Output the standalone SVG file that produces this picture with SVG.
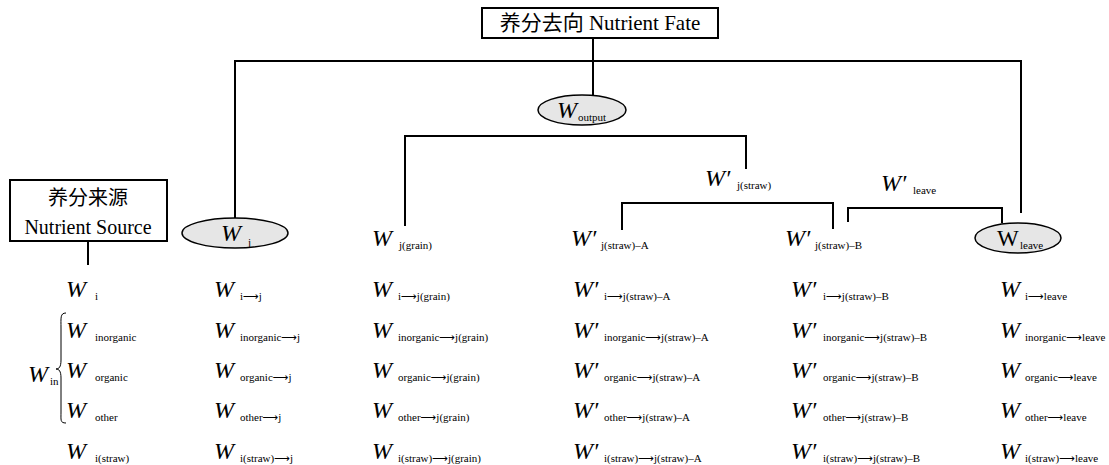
<svg xmlns="http://www.w3.org/2000/svg" width="1109" height="465" viewBox="0 0 1109 465">
<style>
.ln{stroke:#000;stroke-width:2;fill:none}
.box{fill:#fff;stroke:#000;stroke-width:2}
.ell{fill:#e6e6e6;stroke:#000;stroke-width:1.5}
.t{font-family:"Liberation Serif","Times New Roman","Noto Sans CJK SC",serif;fill:#000}
.w{font-family:"Liberation Serif","Times New Roman",serif;font-style:italic;font-size:24px}
.wr{font-family:"Liberation Serif","Times New Roman",serif;font-size:23px}
.s{font-family:"Liberation Serif","Times New Roman","DejaVu Sans",serif;font-size:11px}
</style>
<rect width="1109" height="465" fill="#fff"/>
<g id="connectors">
<path class="ln" d="M593 38V96"/>
<path class="ln" d="M235 219V61H1021V213"/>
<path class="ln" d="M405 226V136H746V169"/>
<path class="ln" d="M622 230V203H833V229"/>
<path class="ln" d="M848 222V208H1002V223"/>
<path class="ln" d="M88 241V265"/>
<path d="M66 313 C60 313 61 318 61 328 L61 360 C61 367 59 369 56 369 C59 369 61 371 61 378 L61 412 C61 420 60 423 66 423" fill="none" stroke="#000" stroke-width="1"/>
</g>
<g id="fate">
<rect class="box" x="482" y="8" width="236" height="30"/>
<text class="t" x="600" y="30" font-size="21" text-anchor="middle">养分去向 Nutrient Fate</text>
</g>
<g id="source">
<rect class="box" x="10" y="180" width="157" height="61"/>
<text class="t" x="88" y="205" font-size="20" text-anchor="middle">养分来源</text>
<text class="t" x="88" y="234" font-size="20" text-anchor="middle">Nutrient Source</text>
</g>
<g id="output">
<ellipse class="ell" cx="582" cy="110" rx="44" ry="15"/>
<text class="w" x="557" y="118">W</text><text class="s" x="578" y="121">output</text>
</g>
<g id="wj">
<ellipse class="ell" cx="235" cy="233" rx="53" ry="15"/>
<text class="w" x="221" y="241">W</text><text class="s" x="248" y="246">j</text>
</g>
<g id="wleave">
<ellipse class="ell" cx="1018" cy="238" rx="43" ry="15"/>
<text class="wr" x="997" y="246">W</text><text class="s" x="1020" y="249">leave</text>
</g>
<g id="wjgrain"><text class="w" x="372" y="246">W</text><text class="s" x="399" y="249">j(grain)</text></g>
<g id="wjstraw"><text class="w" x="705" y="186">W′</text><text class="s" x="737" y="189">j(straw)</text></g>
<g id="wleave2"><text class="w" x="881" y="191">W′</text><text class="s" x="913" y="194">leave</text></g>
<g id="wjstrawA"><text class="w" x="571" y="246">W′</text><text class="s" x="601" y="249">j(straw)–A</text></g>
<g id="wjstrawB"><text class="w" x="785" y="246">W′</text><text class="s" x="815" y="249">j(straw)–B</text></g>
<g id="win"><text class="w" x="28" y="382">W</text><text class="s" x="50" y="385">in</text></g>
<g id="col0">
<text class="w" x="66" y="297">W</text><text class="s" x="95" y="300">i</text>
<text class="w" x="66" y="338">W</text><text class="s" x="95" y="341">inorganic</text>
<text class="w" x="66" y="378">W</text><text class="s" x="95" y="381">organic</text>
<text class="w" x="66" y="418">W</text><text class="s" x="95" y="421">other</text>
<text class="w" x="66" y="459">W</text><text class="s" x="95" y="462">i(straw)</text>
</g>
<g id="col1">
<text class="w" x="214" y="297">W</text><text class="s" x="240" y="300">i⟶j</text>
<text class="w" x="214" y="338">W</text><text class="s" x="240" y="341">inorganic⟶j</text>
<text class="w" x="214" y="378">W</text><text class="s" x="240" y="381">organic⟶j</text>
<text class="w" x="214" y="418">W</text><text class="s" x="240" y="421">other⟶j</text>
<text class="w" x="214" y="459">W</text><text class="s" x="240" y="462">i(straw)⟶j</text>
</g>
<g id="col2">
<text class="w" x="372" y="297">W</text><text class="s" x="398" y="300">i⟶j(grain)</text>
<text class="w" x="372" y="338">W</text><text class="s" x="398" y="341">inorganic⟶j(grain)</text>
<text class="w" x="372" y="378">W</text><text class="s" x="398" y="381">organic⟶j(grain)</text>
<text class="w" x="372" y="418">W</text><text class="s" x="398" y="421">other⟶j(grain)</text>
<text class="w" x="372" y="459">W</text><text class="s" x="398" y="462">i(straw)⟶j(grain)</text>
</g>
<g id="col3">
<text class="w" x="573" y="297">W′</text><text class="s" x="604" y="300">i⟶j(straw)–A</text>
<text class="w" x="573" y="338">W′</text><text class="s" x="604" y="341">inorganic⟶j(straw)–A</text>
<text class="w" x="573" y="378">W′</text><text class="s" x="604" y="381">organic⟶j(straw)–A</text>
<text class="w" x="573" y="418">W′</text><text class="s" x="604" y="421">other⟶j(straw)–A</text>
<text class="w" x="573" y="459">W′</text><text class="s" x="604" y="462">i(straw)⟶j(straw)–A</text>
</g>
<g id="col4">
<text class="w" x="791" y="297">W′</text><text class="s" x="823" y="300">i⟶j(straw)–B</text>
<text class="w" x="791" y="338">W′</text><text class="s" x="823" y="341">inorganic⟶j(straw)–B</text>
<text class="w" x="791" y="378">W′</text><text class="s" x="823" y="381">organic⟶j(straw)–B</text>
<text class="w" x="791" y="418">W′</text><text class="s" x="823" y="421">other⟶j(straw)–B</text>
<text class="w" x="791" y="459">W′</text><text class="s" x="823" y="462">i(straw)⟶j(straw)–B</text>
</g>
<g id="col5">
<text class="w" x="1000" y="297">W</text><text class="s" x="1025" y="300">i⟶leave</text>
<text class="w" x="1000" y="338">W</text><text class="s" x="1025" y="341">inorganic⟶leave</text>
<text class="w" x="1000" y="378">W</text><text class="s" x="1025" y="381">organic⟶leave</text>
<text class="w" x="1000" y="418">W</text><text class="s" x="1025" y="421">other⟶leave</text>
<text class="w" x="1000" y="459">W</text><text class="s" x="1025" y="462">i(straw)⟶leave</text>
</g>
</svg>
